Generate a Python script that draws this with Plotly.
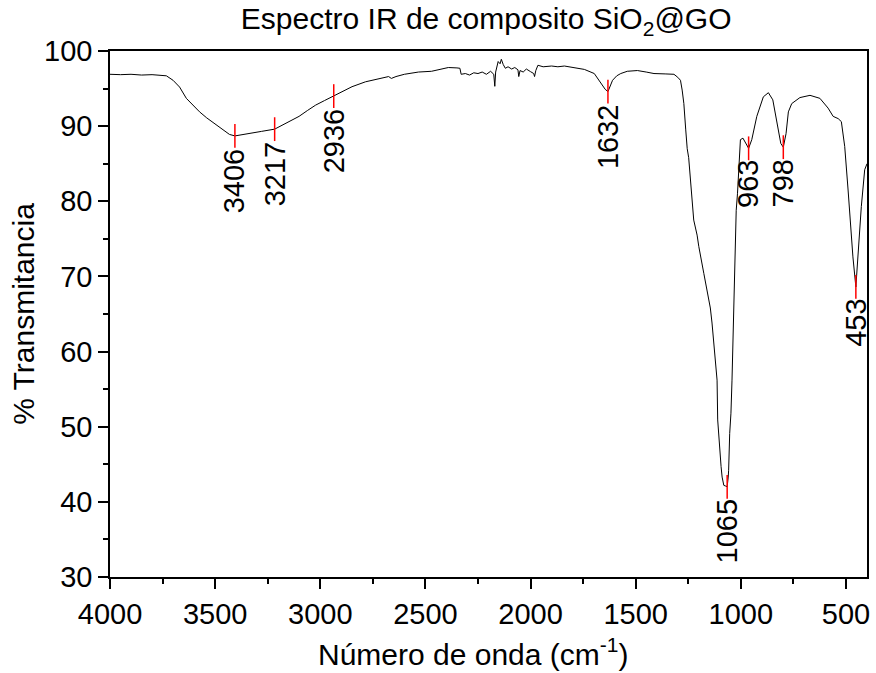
import plotly.graph_objects as go

# FTIR spectrum of the SiO2@GO composite (wavenumber in cm-1, % transmittance)
wavenumber = [
    4000, 3950, 3900, 3850, 3800, 3760, 3732, 3700, 3669, 3637, 3600, 3574, 3540,
    3495, 3460, 3432, 3406, 3370, 3337, 3280, 3217, 3160, 3101, 3060, 3022, 2980,
    2936, 2890, 2849, 2785, 2720, 2675, 2662, 2640, 2600, 2533, 2471, 2420, 2391,
    2350, 2336, 2330, 2310, 2290, 2270, 2250, 2230, 2210, 2190, 2175, 2170, 2166,
    2160, 2154, 2145, 2139, 2130, 2120, 2107, 2090, 2075, 2060, 2056, 2050, 2035,
    2020, 2000, 1985, 1981, 1975, 1965, 1940, 1900, 1870, 1839, 1800, 1744, 1697,
    1665, 1645, 1632, 1622, 1610, 1590, 1571, 1540, 1492, 1450, 1413, 1360, 1318,
    1300, 1287, 1279, 1271, 1262, 1255, 1248, 1239, 1224, 1208, 1200, 1176, 1160,
    1145, 1137, 1121, 1113, 1110, 1100, 1094, 1089, 1081, 1072, 1065, 1060, 1058,
    1053, 1047, 1042, 1036, 1031, 1026, 1022, 1016, 1010, 1002, 990, 979, 963, 948,
    924, 893, 869, 848, 829, 810, 798, 785, 774, 758, 719, 671, 624, 585, 561, 545,
    537, 522, 506, 490, 467, 453, 443, 427, 411, 400,
]
transmittance = [
    96.9, 96.85, 96.9, 96.8, 96.85, 96.8, 96.7, 96.1, 95.2, 93.7, 92.6, 91.9, 91.1,
    90.15, 89.4, 88.9, 88.7, 88.85, 89.05, 89.3, 89.6, 90.4, 91.3, 92.1, 92.8, 93.4,
    94.0, 94.6, 95.25, 95.9, 96.3, 96.6, 96.35, 96.6, 96.9, 97.2, 97.3, 97.6, 97.8,
    97.75, 97.7, 96.9, 97.0, 96.8, 97.1, 97.0, 97.2, 96.9, 97.3, 96.9, 95.3, 97.2,
    98.2, 98.6, 98.3, 98.9, 98.2, 97.7, 97.9, 97.6, 97.8, 97.5, 96.6, 97.4, 97.2,
    97.6, 97.25, 97.0, 96.6, 97.4, 98.1, 97.9, 98.0, 97.9, 98.0, 97.8, 97.55, 97.0,
    95.7, 94.9, 94.6, 95.2, 96.1, 96.7, 97.0, 97.3, 97.4, 97.2, 97.0, 96.95, 96.9,
    96.5, 96.1, 94.8, 93.0, 89.5, 87.0, 85.8, 82.4, 77.5, 75.5, 74.0, 70.4, 67.8,
    65.8, 63.8, 59.0, 56.2, 50.9, 46.5, 44.7, 43.3, 42.2, 42.1, 42.0, 43.3, 44.2,
    49.1, 51.8, 56.2, 62.0, 69.1, 72.0, 78.8, 81.0, 84.6, 88.2, 88.4, 87.9, 87.05, 88.2,
    91.3, 93.9, 94.45, 93.5, 90.4, 87.7, 87.2, 89.0, 91.9, 93.0, 93.8, 94.1, 93.7, 92.4,
    91.3, 91.1, 91.0, 90.6, 87.3, 81.5, 72.6, 68.6, 72.6, 79.3, 84.2, 85.0,
]

# Labelled absorption bands
peak_wn = [3406, 3217, 2936, 1632, 1065, 963, 798, 453]
peak_t = [88.7, 89.6, 94.0, 94.6, 42.0, 87.05, 87.2, 68.6]

x_ticks = [4000, 3500, 3000, 2500, 2000, 1500, 1000, 500]
y_ticks = [30, 40, 50, 60, 70, 80, 90, 100]

FONT = "Arial, Liberation Sans, sans-serif"

fig = go.Figure()
fig.add_trace(go.Scatter(
    x=wavenumber, y=transmittance, mode="lines",
    line=dict(color="black", width=1), showlegend=False, hoverinfo="skip",
))
fig.add_trace(go.Scatter(
    x=peak_wn, y=peak_t, mode="markers",
    marker=dict(symbol="line-ns", size=17, line=dict(color="#ff0000", width=1.5)),
    showlegend=False, hoverinfo="skip",
))

for wn, t in zip(peak_wn, peak_t):
    fig.add_annotation(
        x=wn, y=t, text=str(wn), showarrow=False, textangle=-90,
        xanchor="center", yanchor="top", yshift=-10,
        font=dict(family=FONT, size=29, color="black"),
    )

# x-axis title, drawn as a free annotation below the tick labels
fig.add_annotation(
    xref="paper", yref="paper", x=0.48, y=0, xanchor="center", yanchor="middle",
    yshift=-75, showarrow=False, text="Número de onda (cm<sup>-1</sup>)",
    font=dict(family=FONT, size=30, color="black"),
)

axis_common = dict(
    showline=True, linecolor="black", linewidth=1.5, mirror=True,
    ticks="outside", ticklen=10, tickwidth=1.5, tickcolor="black",
    showgrid=False, zeroline=False,
    tickfont=dict(family=FONT, size=29, color="black"),
)

fig.update_layout(
    width=876, height=673,
    margin=dict(l=110, r=6, t=51, b=96),
    paper_bgcolor="white", plot_bgcolor="white",
    title=dict(
        text="Espectro IR de composito SiO<sub>2</sub>@GO",
        x=0.555, xanchor="center", y=0.972, yanchor="middle",
        font=dict(family=FONT, size=30, color="black"),
    ),
    xaxis=dict(
        range=[4000, 400], tickvals=x_ticks,
        minor=dict(ticks="outside", dtick=250, ticklen=5, tickwidth=1.5, tickcolor="black"),
        **axis_common,
    ),
    yaxis=dict(
        range=[30, 100], tickvals=y_ticks,
        minor=dict(ticks="outside", dtick=5, ticklen=5, tickwidth=1.5, tickcolor="black"),
        title=dict(text="% Transmitancia", standoff=1,
                   font=dict(family=FONT, size=30, color="black")),
        **axis_common,
    ),
)

fig.write_html("out.html")
